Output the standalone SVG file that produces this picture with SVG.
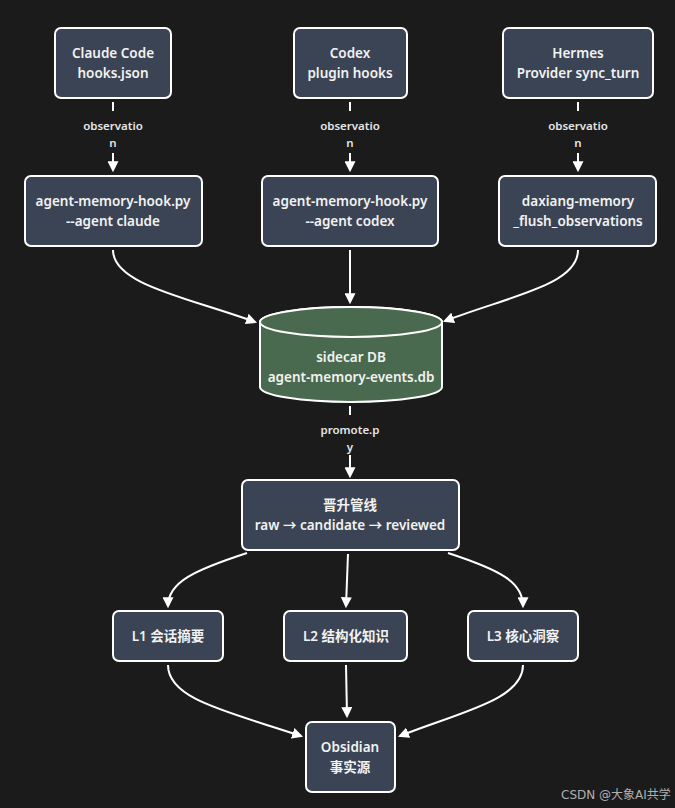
<svg xmlns="http://www.w3.org/2000/svg" width="675" height="808" viewBox="0 0 675 808">
<defs>
<marker id="ah" viewBox="0 0 10 10" refX="8" refY="5" markerWidth="11" markerHeight="11" markerUnits="userSpaceOnUse" orient="auto">
<path d="M0,0 L10,5 L0,10 z" fill="#ffffff"/>
</marker>
<style>
.node rect{fill:#3b4454;stroke:#ffffff;stroke-width:2}
.t{font-family:"Noto Sans","Open Sans","Noto Sans CJK SC",sans-serif;font-size:13.5px;font-weight:600;fill:#f2f2f2;text-anchor:middle;dominant-baseline:central}
.lbl{font-family:"Noto Sans","Open Sans",sans-serif;font-size:11.5px;font-weight:600;fill:#e6e6e6;text-anchor:middle;dominant-baseline:central}
.e{fill:none;stroke:#ffffff;stroke-width:2}
.ea{fill:none;stroke:#ffffff;stroke-width:2;marker-end:url(#ah)}
</style>
</defs>
<rect width="675" height="808" fill="#1b1b1b"/>

<g id="connectors">
<line class="e" x1="113" y1="102" x2="113" y2="111"/>
<line class="ea" x1="113" y1="153" x2="113" y2="170"/>
<line class="e" x1="350" y1="102" x2="350" y2="111"/>
<line class="ea" x1="350" y1="153" x2="350" y2="170"/>
<line class="e" x1="578" y1="102" x2="578" y2="111"/>
<line class="ea" x1="578" y1="153" x2="578" y2="170"/>
<path class="ea" d="M113,250 C113,285 190,298 255,322"/>
<line class="ea" x1="350" y1="250" x2="350" y2="302"/>
<path class="ea" d="M578,250 C578,285 510,296 445,321"/>
<line class="e" x1="350" y1="406" x2="350" y2="415"/>
<line class="ea" x1="350" y1="455" x2="350" y2="476"/>
<path class="ea" d="M247,553 C195,570 168,582 168,606"/>
<path class="ea" d="M348,554 L346,606"/>
<path class="ea" d="M448,553 C500,570 523,582 523,606"/>
<path class="ea" d="M168,665 C168,700 230,712 301,736"/>
<path class="ea" d="M346,665 L347,716"/>
<path class="ea" d="M523,665 C523,700 460,712 400,736"/>
<text class="lbl" x="113" y="125">observatio</text>
<text class="lbl" x="113" y="142">n</text>
<text class="lbl" x="350" y="125">observatio</text>
<text class="lbl" x="350" y="142">n</text>
<text class="lbl" x="578" y="125">observatio</text>
<text class="lbl" x="578" y="142">n</text>
<text class="lbl" x="350" y="429">promote.p</text>
<text class="lbl" x="350" y="446">y</text>
</g>

<g id="claude" class="node">
<rect x="55" y="28" width="116" height="70" rx="6"/>
<text class="t" x="113" y="53">Claude Code</text>
<text class="t" x="113" y="73">hooks.json</text>
</g>
<g id="codex" class="node">
<rect x="294" y="28" width="113" height="70" rx="6"/>
<text class="t" x="350" y="53">Codex</text>
<text class="t" x="350" y="73">plugin hooks</text>
</g>
<g id="hermes" class="node">
<rect x="503" y="28" width="150" height="70" rx="6"/>
<text class="t" x="578" y="53">Hermes</text>
<text class="t" x="578" y="73">Provider sync_turn</text>
</g>

<g id="hook_claude" class="node">
<rect x="25" y="176" width="177" height="70" rx="6"/>
<text class="t" x="113" y="201">agent-memory-hook.py</text>
<text class="t" x="113" y="221">--agent claude</text>
</g>
<g id="hook_codex" class="node">
<rect x="262" y="176" width="176" height="70" rx="6"/>
<text class="t" x="350" y="201">agent-memory-hook.py</text>
<text class="t" x="350" y="221">--agent codex</text>
</g>
<g id="daxiang" class="node">
<rect x="499" y="176" width="157" height="70" rx="6"/>
<text class="t" x="578" y="201">daxiang-memory</text>
<text class="t" x="578" y="221">_flush_observations</text>
</g>

<g id="sidecar">
<path d="M260,322 L260,387 A91,15 0 0 0 442,387 L442,322 A91,15 0 0 0 260,322 Z" fill="#4a6a4f" stroke="#ffffff" stroke-width="2"/>
<ellipse cx="351" cy="322" rx="91" ry="15" fill="#4a6a4f" stroke="#ffffff" stroke-width="2"/>
<text class="t" x="351" y="357">sidecar DB</text>
<text class="t" x="351" y="377">agent-memory-events.db</text>
</g>

<g id="pipeline" class="node">
<rect x="242" y="480" width="217" height="70" rx="6"/>
<text class="t" x="350" y="505">晋升管线</text>
<text class="t" x="350" y="525">raw → candidate → reviewed</text>
</g>

<g id="l1" class="node">
<rect x="113" y="611" width="110" height="50" rx="6"/>
<text class="t" x="168" y="636">L1 会话摘要</text>
</g>
<g id="l2" class="node">
<rect x="284" y="611" width="123" height="50" rx="6"/>
<text class="t" x="346" y="636">L2 结构化知识</text>
</g>
<g id="l3" class="node">
<rect x="468" y="611" width="110" height="50" rx="6"/>
<text class="t" x="523" y="636">L3 核心洞察</text>
</g>

<g id="obsidian" class="node">
<rect x="306" y="722" width="89" height="70" rx="6"/>
<text class="t" x="350" y="747">Obsidian</text>
<text class="t" x="350" y="767">事实源</text>
</g>

<text x="561" y="799" font-family="'DejaVu Sans','Noto Sans CJK SC',sans-serif" font-size="12" fill="#b0b0b0">CSDN @大象AI共学</text>
</svg>
